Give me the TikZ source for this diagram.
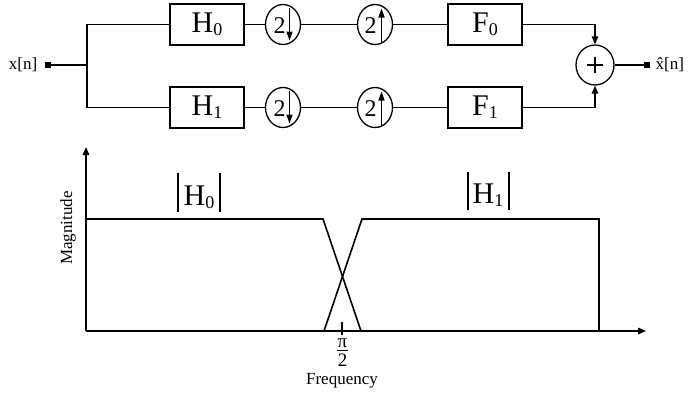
\documentclass[tikz,border=0pt]{standalone}
\usepackage{fontspec}
\setmainfont{Liberation Serif}
\usetikzlibrary{calc,arrows.meta,shapes.geometric}

% large letter with a lowered, smaller index
\newcommand{\bigsub}[2]{{\fontsize{30}{31}\selectfont #1}\raisebox{-3pt}{\fontsize{18}{19}\selectfont #2}}

\begin{document}
\begin{tikzpicture}[x=1pt,y=-1pt,line width=1.3pt,
  filt/.style={draw,minimum width=74pt,minimum height=41pt,inner sep=0pt},
  rate/.style={draw,ellipse,minimum width=35pt,minimum height=40pt,inner sep=0pt},
  lbl/.style={font=\fontsize{17}{18}\selectfont,inner sep=0pt},
  tip/.style={-{Triangle[length=8pt,width=6.5pt]}},
  small tip/.style={-{Triangle[length=9pt,width=6pt]}},
  port/.style={fill,minimum size=5.5pt,inner sep=0pt},
  curve/.style={line width=1.6pt}]
\useasboundingbox (0,0) rectangle (700,392);

% ---- two-channel filter bank ----
\node[lbl] (xin) at (23,65) {x[n]};
\node[port] (pin) at (48,65) {};
\coordinate (split) at (87,65);

\node[filt] (H0) at (207,24.5) {\raisebox{-5pt}{\bigsub{H}{0}}};
\node[filt] (H1) at (207,107.5) {\raisebox{-5pt}{\bigsub{H}{1}}};
\node[rate] (D0) at (283,24.5) {};
\node[rate] (D1) at (283,107.5) {};
\node[rate] (U0) at (375,24.5) {};
\node[rate] (U1) at (375,107.5) {};
\node[filt] (F0) at (485,24.5) {\raisebox{-5pt}{\bigsub{F}{0}}};
\node[filt] (F1) at (485,107.5) {\raisebox{-5pt}{\bigsub{F}{1}}};
\node[draw,ellipse,minimum width=38pt,minimum height=40pt,inner sep=0pt] (sum) at (595,65) {};
\node[port] (pout) at (647,65) {};
\node[lbl,anchor=west] (xout) at (655,65) {\^{x}[n]};

% decimators and expanders
\foreach \n in {D0,D1} {
  \node[lbl,font=\fontsize{24}{25}\selectfont] at ($(\n)+(-3.5,1)$) {2};
  \draw[line width=1.3pt,small tip] ($(\n)+(6.5,-17)$) -- ($(\n)+(6.5,16)$);
}
\foreach \n in {U0,U1} {
  \node[lbl,font=\fontsize{24}{25}\selectfont] at ($(\n)+(-4.5,1)$) {2};
  \draw[line width=1.3pt,small tip] ($(\n)+(6.5,17)$) -- ($(\n)+(6.5,-16)$);
}
% adder sign
\draw[line width=1.7pt] ($(sum)+(-8,0)$) -- ($(sum)+(8,0)$);
\draw[line width=1.7pt] ($(sum)+(0,-8)$) -- ($(sum)+(0,8)$);

\draw (pin) -- (split);
\draw (H0.west) -| (split) |- (H1.west);
\draw (H0) -- (D0) -- (U0) -- (F0);
\draw (H1) -- (D1) -- (U1) -- (F1);
\draw[tip] (F0.east) -| (sum.north);
\draw[tip] (F1.east) -| (sum.south);
\draw (sum) -- (pout);

% ---- magnitude responses ----
\coordinate (O) at (86,331);
\coordinate (ytop) at (86,147);
\coordinate (xend) at (646,331);
\draw[curve,tip] (O) -- (ytop);
\draw[curve,tip] (O) -- (xend);
\node[lbl,rotate=90] (mag) at (68,228) {Magnitude};

\draw[curve] (O |- 0,219) -- (323,219) -- (361,331);
\draw[curve] (324,331) -- (362,219) -- (599,219) -- (599,331);

\draw (342,322) -- (342,335);
\node[lbl,font=\fontsize{19}{20}\selectfont] (pi) at (342.5,343) {π};
\draw (337,350.5) -- (348,350.5);
\node[lbl,font=\fontsize{19}{20}\selectfont] (two) at (342.5,360) {2};
\node[lbl,anchor=base] (freq) at (342,384) {Frequency};

\draw (178,173) -- (178,212);
\draw (220,173) -- (220,212);
\node[inner sep=0pt,anchor=base] (mH0) at (199,205) {\bigsub{H}{0}};
\draw (468,172) -- (468,210);
\draw (509,172) -- (509,210);
\node[inner sep=0pt,anchor=base] (mH1) at (488,203) {\bigsub{H}{1}};
\end{tikzpicture}
\end{document}
